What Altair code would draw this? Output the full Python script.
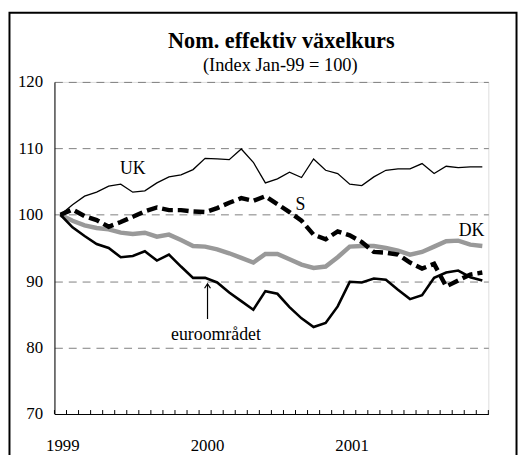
import altair as alt
import pandas as pd

# ---- data (monthly index, Jan 1999 = 100) ----
months = list(range(36))  # Jan 1999 .. Dec 2001
uk = [100.0, 101.5, 102.8, 103.4, 104.3, 104.6, 103.4, 103.6, 104.8, 105.7, 106.0, 106.8,
      108.5, 108.4, 108.3, 109.9, 107.9, 104.8, 105.4, 106.4, 105.6, 108.4, 106.7, 106.2,
      104.6, 104.4, 105.7, 106.7, 106.9, 106.9, 107.7, 106.2, 107.3, 107.1, 107.2, 107.2]
s = [100.0, 100.8, 99.8, 99.2, 98.2, 98.9, 99.7, 100.5, 101.1, 100.7, 100.7, 100.5,
     100.4, 101.0, 101.8, 102.5, 102.1, 102.8, 101.6, 100.4, 99.1, 97.0, 96.3, 97.5,
     96.9, 95.9, 94.4, 94.3, 94.0, 92.8, 91.9, 92.6, 89.2, 90.1, 91.0, 91.3]
dk = [100.0, 99.1, 98.4, 98.0, 97.8, 97.3, 97.1, 97.3, 96.7, 97.0, 96.2, 95.3,
      95.2, 94.8, 94.2, 93.5, 92.8, 94.1, 94.1, 93.3, 92.5, 92.0, 92.2, 93.6,
      95.2, 95.3, 95.3, 95.0, 94.6, 94.0, 94.4, 95.2, 96.0, 96.1, 95.5, 95.3]
euro = [100.0, 98.1, 96.8, 95.6, 95.0, 93.6, 93.8, 94.5, 93.1, 94.0, 92.2, 90.5,
        90.5, 89.8, 88.3, 87.0, 85.7, 88.5, 88.1, 86.1, 84.4, 83.1, 83.7, 86.2,
        89.9, 89.8, 90.4, 90.2, 88.7, 87.3, 87.9, 90.5, 91.3, 91.6, 90.6, 90.1]

year_ticks = [0, 12, 24]
year_labels = ["1999", "2000", "2001"]
tick_months = list(range(37))

label_text = ["UK", "S", "DK", "euroområdet"]
label_month = [6.5, 20.4, 34.6, 13.4]
label_value = [106.9, 101.4, 97.6, 81.9]

arrow_month = [12.7]
arrow_top = [89.6]
arrow_bottom = [84.3]

title_text = "Nom. effektiv växelkurs"
subtitle_text = "(Index Jan-99 = 100)"

FONT = "Liberation Serif"
W, H = 439, 336

def series_df(vals):
    return pd.DataFrame({"m": [m + 0.5 for m in months], "v": vals})

xscale = alt.Scale(domain=[0, 36], nice=False, zero=False)
yscale = alt.Scale(domain=[70, 120], nice=False, zero=False)

label_expr = " : ".join(
    f"datum.value == {t} ? '{l}'" for t, l in zip(year_ticks, year_labels)
) + " : ''"

xaxis = alt.Axis(values=year_ticks, labelExpr=label_expr, ticks=False, grid=False,
                 domainColor="black", domainWidth=1, labelFont=FONT, labelFontSize=17,
                 labelColor="black", labelOffset=8, labelPadding=24, title=None,
                 labelAlign="center")
yaxis = alt.Axis(values=[70, 80, 90, 100, 110, 120], ticks=False, grid=True,
                 gridDash=[8, 6], gridColor="#808080", gridWidth=1,
                 domainColor="black", domainWidth=1, labelFont=FONT, labelFontSize=17,
                 labelColor="black", labelPadding=12, title=None)

base_x = alt.X("m:Q", scale=xscale, axis=xaxis)
base_y = alt.Y("v:Q", scale=yscale, axis=yaxis)

one = pd.DataFrame({"f": [1]})

frame = alt.Chart(one).mark_rect(
    fillOpacity=0, stroke="black", strokeWidth=2
).encode(x=alt.value(-45.5), x2=alt.value(467.5), y=alt.value(-70), y2=alt.value(400))

title_mark = alt.Chart(one).mark_text(
    text=title_text, font=FONT, fontSize=22.5, fontWeight="bold", color="black",
    align="center", baseline="alphabetic"
).encode(x=alt.value(229.5), y=alt.value(-34))

subtitle_mark = alt.Chart(one).mark_text(
    text=subtitle_text, font=FONT, fontSize=18.6, color="black",
    align="center", baseline="alphabetic"
).encode(x=alt.value(228.5), y=alt.value(-11))

ticks = alt.Chart(pd.DataFrame({"m": tick_months})).mark_rule(
    color="black", strokeWidth=1
).encode(x=alt.X("m:Q", scale=xscale, axis=xaxis), y=alt.value(H), y2=alt.value(H - 4))

dk_line = alt.Chart(series_df(dk)).mark_line(color="#999999", strokeWidth=4.5).encode(
    x=base_x, y=base_y)
euro_line = alt.Chart(series_df(euro)).mark_line(color="black", strokeWidth=2.6).encode(
    x=base_x, y=base_y)
s_line = alt.Chart(series_df(s)).mark_line(color="black", strokeWidth=4.5,
                                           strokeDash=[11, 5]).encode(x=base_x, y=base_y)
uk_line = alt.Chart(series_df(uk)).mark_line(color="black", strokeWidth=1.3).encode(
    x=base_x, y=base_y)

labels = alt.Chart(pd.DataFrame({"t": label_text, "m": label_month, "v": label_value})).mark_text(
    font=FONT, fontSize=18, color="black", align="center", baseline="middle"
).encode(x=base_x, y=base_y, text="t:N")

arrow_df = pd.DataFrame({"m": arrow_month, "v": arrow_top, "v2": arrow_bottom})
arrow_shaft = alt.Chart(arrow_df).mark_rule(color="black", strokeWidth=1.2).encode(
    x=base_x, y=base_y, y2="v2:Q")
arrow_head = alt.Chart(arrow_df).mark_point(
    shape="M -1 1.5 L 0 0 L 1 1.5", filled=False, color="black", strokeWidth=1.2,
    size=36, opacity=1
).encode(x=base_x, y=base_y)

chart = alt.layer(
    frame, title_mark, subtitle_mark, ticks, dk_line, euro_line, s_line, uk_line,
    labels, arrow_shaft, arrow_head
).properties(
    width=W, height=H,
    padding={"left": 0, "top": 1, "right": 0, "bottom": 0},
).configure_view(stroke=None).configure(background="white")

chart.save("out.html", embed_options={"renderer": "svg", "actions": False})
